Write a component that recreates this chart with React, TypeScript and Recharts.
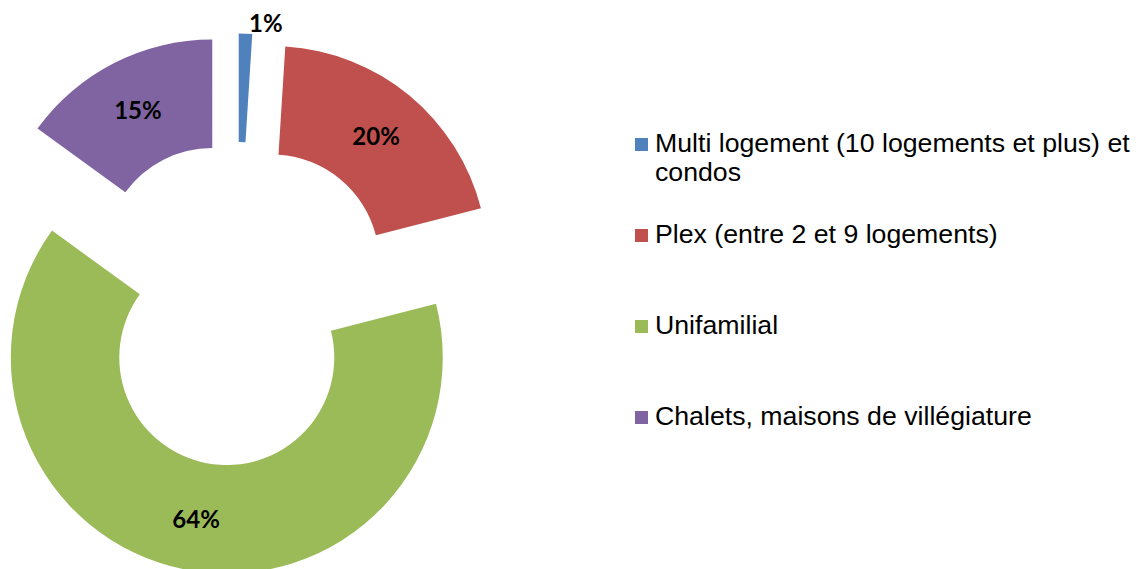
import React from 'react';
import { PieChart, Pie, Cell, Sector, Legend } from 'recharts';

// Répartition par type de logement (%)
const categories = [
  'Multi logement (10 logements et plus) et condos',
  'Plex (entre 2 et 9 logements)',
  'Unifamilial',
  'Chalets, maisons de villégiature'
];
const shares = [1, 20, 64, 15];
const colors = ['#4F81BD', '#C0504D', '#9BBB59', '#8064A2'];

const data = categories.map((name, i) => ({ name, value: shares[i] }));

const RADIAN = Math.PI / 180;
const EXPLODE = 54.5;

const shift = (midAngle: number, dist: number) => ({
  dx: dist * Math.cos(-midAngle * RADIAN),
  dy: dist * Math.sin(-midAngle * RADIAN)
});

// each slice pushed away from the centre along its mid angle
const ExplodedSector = (props: any) => {
  const { dx, dy } = shift(props.midAngle, EXPLODE);
  return <Sector {...props} cx={props.cx + dx} cy={props.cy + dy} stroke="none" />;
};

const renderLabel = (props: any) => {
  const { cx, cy, midAngle, innerRadius, outerRadius, percent, value } = props;
  const c = shift(midAngle, EXPLODE);
  let r = (innerRadius + outerRadius) / 2 + 2;
  let extraX = 0;
  if (percent < 0.03) {
    // too thin: label sits just outside, to the right
    r = outerRadius + 11;
    extraX = 20;
  }
  const p = shift(midAngle, r);
  return (
    <text
      x={cx + c.dx + p.dx + extraX}
      y={cy + c.dy + p.dy}
      textAnchor="middle"
      dominantBaseline="central"
      fill="#000"
      fontFamily="Lato, 'Open Sans', sans-serif"
      fontWeight="bold"
      fontSize={24}
    >
      {`${value}%`}
    </text>
  );
};

const renderLegend = (props: any) => {
  const payload = [...(props.payload || [])].sort(
    (a: any, b: any) => categories.indexOf(a.value) - categories.indexOf(b.value)
  );
  return (
    <div style={{ fontFamily: "'Liberation Sans', Arial, sans-serif", fontSize: 26.7, color: '#000' }}>
      {payload.map((entry: any, i: number) => (
        <div key={i} style={{ display: 'flex', alignItems: 'flex-start', height: 91 }}>
          <span
            style={{
              display: 'inline-block',
              width: 13,
              height: 13,
              marginTop: 9,
              marginRight: 7,
              background: entry.color,
              flexShrink: 0
            }}
          />
          <span style={{ lineHeight: '29px', width: 480 }}>{entry.value}</span>
        </div>
      ))}
    </div>
  );
};

const App: React.FC = () => {
  return (
    <div style={{ position: 'absolute', left: 0, top: 0, width: 1136, height: 569, background: '#fff' }}>
      <PieChart width={1136} height={569} margin={{ top: 0, right: 0, bottom: 0, left: 0 }}>
        <Pie
          data={data}
          dataKey="value"
          nameKey="name"
          cx={237}
          cy={304}
          innerRadius={107.5}
          outerRadius={216}
          startAngle={90}
          endAngle={-270}
          stroke="none"
          labelLine={false}
          label={renderLabel}
          shape={ExplodedSector}
          activeShape={ExplodedSector}
          inactiveShape={ExplodedSector}
          isAnimationActive={false}
        >
          {data.map((_, i) => (
            <Cell key={i} fill={colors[i]} />
          ))}
        </Pie>
        <Legend
          layout="vertical"
          align="right"
          verticalAlign="top"
          itemSorter={null}
          content={renderLegend}
          wrapperStyle={{ left: 635, top: 129, width: 500 }}
        />
      </PieChart>
    </div>
  );
};

export default App;
